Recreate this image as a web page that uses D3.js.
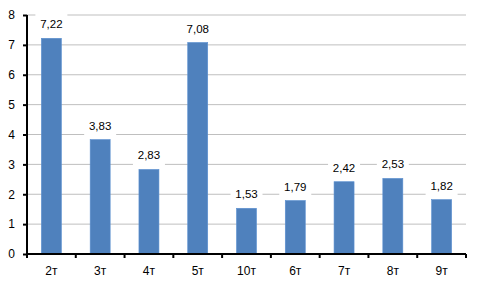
<!DOCTYPE html>
<html>
<head>
<meta charset="utf-8">
<script src="https://cdn.jsdelivr.net/npm/d3@7"></script>
<style>
  body { margin: 0; background: #fff; }
  text { font-family: "Liberation Sans", Arial, sans-serif; }
</style>
</head>
<body>
<div id="chart"></div>
<script>
const categories = ["2т", "3т", "4т", "5т", "10т", "6т", "7т", "8т", "9т"];
const values = [7.22, 3.83, 2.83, 7.08, 1.53, 1.79, 2.42, 2.53, 1.82];
const yTicks = [0, 1, 2, 3, 4, 5, 6, 7, 8];

const margin = {top: 15, right: 14, bottom: 34, left: 27},
      width = 480 - margin.left - margin.right,
      height = 288 - margin.top - margin.bottom;

const svg = d3.select("#chart").append("svg")
    .attr("width", 480)
    .attr("height", 288)
    .append("g")
    .attr("transform", `translate(${margin.left},${margin.top})`);

const x = d3.scaleBand()
    .domain(categories)
    .range([0, width])
    .paddingInner(0.59)
    .paddingOuter(0.295);

const y = d3.scaleLinear()
    .domain([0, 8])
    .range([height, 0]);

// gridlines
svg.selectAll("line.grid")
    .data(yTicks.slice(1))
    .enter()
    .append("line")
    .attr("class", "grid")
    .attr("x1", 0)
    .attr("x2", width)
    .attr("y1", d => y(d))
    .attr("y2", d => y(d))
    .attr("stroke", "#bfbfbf")
    .attr("stroke-width", 1);

// bars
svg.selectAll("rect.bar")
    .data(values)
    .enter()
    .append("rect")
    .attr("class", "bar")
    .attr("x", (d, i) => x(categories[i]))
    .attr("y", d => y(d))
    .attr("width", x.bandwidth())
    .attr("height", d => height - y(d))
    .attr("fill", "#4f81bd")
    .attr("stroke", "#5a8fd0")
    .attr("stroke-width", 0.6);

// value labels with white background
const fmt = d => d3.format(".2f")(d).replace(".", ",");
const lbl = svg.selectAll("g.lbl")
    .data(values)
    .enter()
    .append("g")
    .attr("class", "lbl")
    .attr("transform", (d, i) => `translate(${x(categories[i]) + x.bandwidth() / 2},${y(d) - 14})`);
lbl.append("rect")
    .attr("x", -16)
    .attr("y", -11)
    .attr("width", 32)
    .attr("height", 22)
    .attr("fill", "#fff");
lbl.append("text")
    .attr("text-anchor", "middle")
    .attr("dy", "0.35em")
    .attr("font-size", 11.5)
    .attr("fill", "#000")
    .text(d => fmt(d));

// y axis
const yAxis = svg.append("g")
    .call(d3.axisLeft(y).tickValues(yTicks).tickSize(4).tickPadding(8).tickFormat(d3.format("d")));
yAxis.select(".domain").attr("stroke", "#000").attr("stroke-width", 2).attr("d", `M0,${height}V0`);
yAxis.selectAll(".tick line").attr("stroke", "#000").attr("stroke-width", 2);
yAxis.selectAll("text").attr("font-size", 12).attr("fill", "#000");

// x axis
const xAxis = svg.append("g")
    .attr("transform", `translate(0,${height})`)
    .call(d3.axisBottom(x).tickSize(0).tickPadding(12));
xAxis.select(".domain").attr("stroke", "#000").attr("stroke-width", 2).attr("d", `M0,0H${width}`);
xAxis.selectAll("text").attr("font-size", 12).attr("fill", "#000");

// tick marks between categories
const step = x.step();
svg.selectAll("line.xtick")
    .data(d3.range(categories.length + 1))
    .enter()
    .append("line")
    .attr("class", "xtick")
    .attr("x1", i => x(categories[0]) - x.paddingOuter() * step + i * step)
    .attr("x2", i => x(categories[0]) - x.paddingOuter() * step + i * step)
    .attr("y1", height)
    .attr("y2", height + 4)
    .attr("stroke", "#000")
    .attr("stroke-width", 2);
</script>
</body>
</html>
